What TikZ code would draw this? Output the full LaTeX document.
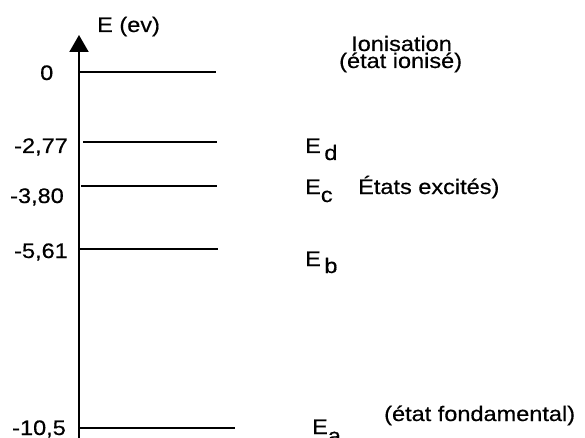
\documentclass[tikz,border=0pt]{standalone}
\usepackage{fontspec}
\setmainfont{Liberation Sans}[FakeStretch=1.12,FakeBold=0.5]
\usetikzlibrary{arrows.meta}
\tikzset{
  lbl/.style={inner sep=0pt, anchor=base west, font=\fontsize{21pt}{24pt}\selectfont},
  level/.style={line width=2pt},
  axis/.style={line width=2pt, -{Triangle[length=17pt,width=19pt]}}
}
\begin{document}
\begin{tikzpicture}[x=1pt,y=-1pt]
\useasboundingbox (0,0) rectangle (585,438);
% axis
\coordinate (ax0) at (79,439);
\coordinate (ax1) at (79,35);
\draw[axis] (ax0) -- (ax1);
% levels
\coordinate (l0a) at (79,72);   \coordinate (l0b) at (216,72);
\coordinate (lda) at (83,142);  \coordinate (ldb) at (217,142);
\coordinate (lca) at (81,186);  \coordinate (lcb) at (217,186);
\coordinate (lba) at (79,249);  \coordinate (lbb) at (218,249);
\coordinate (laa) at (79,428);  \coordinate (lab) at (235,428);
\draw[level] (l0a) -- (l0b);
\draw[level] (lda) -- (ldb);
\draw[level] (lca) -- (lcb);
\draw[level] (lba) -- (lbb);
\draw[level] (laa) -- (lab);
% axis label
\node[lbl] (elab) at (97,32) {E (ev)};
% values
\node[lbl] (v0) at (40,80) {0};
\node[lbl] (vd) at (14,153) {-2,77};
\node[lbl] (vc) at (10,203) {-3,80};
\node[lbl] (vb) at (14,258) {-5,61};
\node[lbl] (va) at (12,435) {-10,5};
% right labels
\node[lbl] (ion) at (351,51) {Ionisation};
\node[lbl] (ion2) at (339,68) {(état ionisé)};
\node[lbl] (ed) at (305,153) {E\,\raisebox{-7pt}{d}};
\node[lbl] (ec) at (305,194) {E\raisebox{-8pt}{c}};
\node[lbl] (exc) at (358,194) {États excités)};
\node[lbl] (eb) at (305,266) {E\,\raisebox{-7pt}{b}};
\node[lbl] (ea) at (312,434) {E\raisebox{-9pt}{a}};
\node[lbl] (fond) at (384,421) {(état fondamental)};
\end{tikzpicture}
\end{document}
